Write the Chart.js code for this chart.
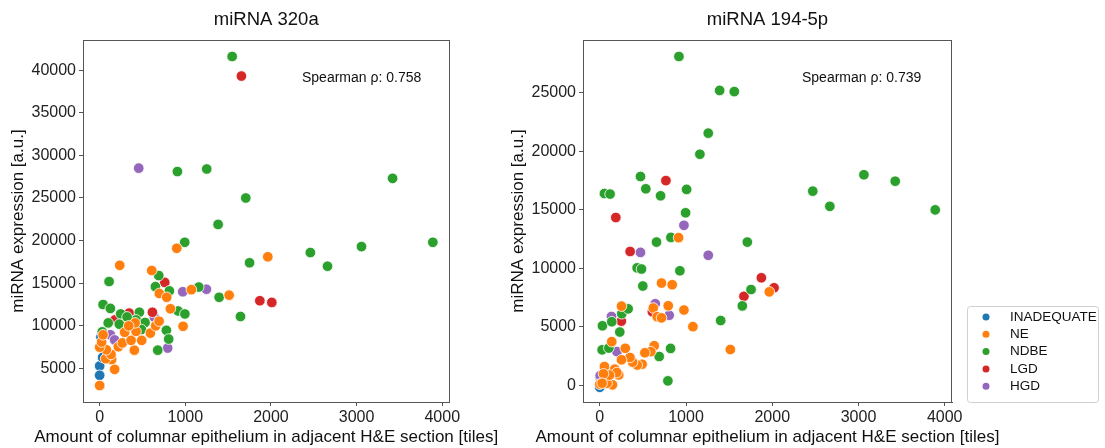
<!DOCTYPE html>
<html>
<head>
<meta charset="utf-8">
<script src="https://cdn.jsdelivr.net/npm/chart.js@4.4.1/dist/chart.umd.min.js"></script>
<style>
  body { margin: 0; background: #fff; }
  #left { position: absolute; left: 0; top: 0; width: 500px; height: 448px; }
  #right { position: absolute; left: 500px; top: 0; width: 605px; height: 448px; }
</style>
</head>
<body>
<div id="left"><canvas id="chartLeft"></canvas></div>
<div id="right"><canvas id="chartRight"></canvas></div>
<script>
'use strict';

var FONT = '"Liberation Sans", Arial, sans-serif';

var categories = ['INADEQUATE', 'NE', 'NDBE', 'LGD', 'HGD'];
var colors = ['#1f77b4', '#ff7f0e', '#2ca02c', '#d62728', '#9467bd'];

var xTicks = [0, 1000, 2000, 3000, 4000];
var yTicks320 = [5000, 10000, 15000, 20000, 25000, 30000, 35000, 40000];
var yTicks194 = [0, 5000, 10000, 15000, 20000, 25000];

// miRNA 320a  [tiles, expression]
var inadequate320 = [[0, 5300], [0, 4200], [35, 6300], [15, 8700]];
var ne320 = [[0, 3000], [175, 4900], [140, 6050], [70, 6150], [133, 6650], [78, 7200], [0, 7500], [218, 7550],
  [23, 8100], [40, 8950], [265, 8000], [405, 7150], [367, 8300], [491, 8300], [292, 9250], [592, 9150],
  [425, 9350], [414, 10350], [339, 10000], [654, 10000], [694, 10550], [697, 13800], [783, 13350],
  [826, 12000], [974, 9950], [1071, 14250], [1512, 13600], [900, 19100], [234, 17100], [608, 16500], [1963, 18100]];
var ndbe320 = [[1547, 41600], [908, 28100], [1250, 28400], [3420, 27300], [1706, 25000], [1383, 21900],
  [993, 19800], [3890, 19800], [3057, 19300], [2460, 18600], [1750, 17400], [2660, 17000], [110, 15200],
  [690, 15900], [651, 14600], [814, 14100], [1157, 14550], [1395, 13350], [1644, 11100], [916, 11750],
  [995, 11400], [779, 9480], [806, 8450], [678, 7150], [464, 11600], [425, 10700], [530, 10400], [487, 9570],
  [245, 11400], [320, 11050], [230, 10200], [100, 10350], [40, 12500], [125, 12050], [30, 9300]];
var lgd320 = [[1655, 39300], [760, 15100], [1870, 12950], [2010, 12750], [616, 11600], [345, 11500], [178, 10700]];
var hgd320 = [[456, 28500], [970, 14000], [1246, 14300], [639, 11000], [794, 7400], [125, 8950], [175, 8350]];

// miRNA 194-5p
var inadequate194 = [[0, -150], [15, 250], [5, 700]];
var ne194 = [[914, 12630], [716, 8750], [840, 8610], [1966, 8000], [1080, 5030], [1514, 3080], [976, 6450],
  [620, 6620], [666, 5880], [716, 5780], [794, 6810], [631, 3400], [592, 2900], [523, 2800], [491, 1820],
  [434, 1750], [380, 2000], [350, 2400], [296, 3180], [252, 2200], [220, 910], [147, 60], [85, 200], [0, 120],
  [89, 1060], [54, 1620], [174, 1400], [197, 1110], [113, 890], [43, 1000], [27, 200], [139, 3750], [252, 6780]];
var ndbe194 = [[918, 28100], [1390, 25200], [1560, 25100], [1258, 21550], [1161, 19750], [472, 17850],
  [534, 16800], [705, 16200], [1007, 16750], [54, 16400], [120, 16350], [995, 14750], [2470, 16600],
  [2668, 15300], [3063, 18000], [3426, 17450], [3890, 15000], [825, 12650], [658, 12250], [1711, 12250],
  [433, 10050], [484, 9950], [929, 9800], [499, 8500], [1754, 8200], [1653, 6800], [1402, 5550], [821, 3170],
  [689, 2480], [790, 400], [27, 3050], [105, 3200], [31, 5100], [139, 5450], [232, 4570], [255, 6130], [329, 6550]];
var lgd194 = [[767, 17500], [186, 14350], [352, 11450], [1874, 9200], [2021, 8350], [1672, 7620], [610, 6300], [250, 5500]];
var hgd194 = [[976, 13680], [472, 11370], [1258, 11120], [643, 6990], [805, 6000], [136, 5900], [199, 2900], [5, 850]];

var series320 = [inadequate320, ne320, ndbe320, lgd320, hgd320];
var series194 = [inadequate194, ne194, ndbe194, lgd194, hgd194];

var xLabel = 'Amount of columnar epithelium in adjacent H&E section [tiles]';

var decoPlugin = {
  id: 'deco',
  afterDraw: function (chart) {
    var o = chart.options.plugins.deco;
    var ctx = chart.ctx;
    var a = chart.chartArea;
    ctx.save();
    ctx.strokeStyle = '#555';
    ctx.lineWidth = 1;
    ctx.strokeRect(Math.round(a.left) + 0.5, Math.round(a.top) + 0.5,
      Math.round(a.right - a.left) - 1, Math.round(a.bottom - a.top));
    ctx.fillStyle = '#111';
    ctx.textBaseline = 'middle';
    ctx.textAlign = 'center';
    ctx.font = '18.5px ' + FONT;
    ctx.fillText(o.title, (a.left + a.right) / 2, 20);
    ctx.font = '17px ' + FONT;
    ctx.fillText(xLabel, (a.left + a.right) / 2, 437);
    ctx.textAlign = 'left';
    ctx.font = '14px ' + FONT;
    ctx.fillText('Spearman \u03c1: ' + o.rho, a.left + 219, a.top + 38);
    if (o.legend) {
      ctx.fillStyle = '#fff';
      ctx.strokeStyle = '#d0d0d0';
      ctx.beginPath();
      ctx.roundRect(467.5, 306.5, 131, 96, 3);
      ctx.fill();
      ctx.stroke();
      for (var i = 0; i < categories.length; i++) {
        var y = 317 + i * 17.3;
        ctx.fillStyle = colors[i];
        ctx.beginPath();
        ctx.arc(486, y, 3.5, 0, Math.PI * 2);
        ctx.fill();
        ctx.fillStyle = '#111';
        ctx.font = '13.5px ' + FONT;
        ctx.fillText(categories[i], 510, y);
      }
    }
    ctx.restore();
  }
};

function makeChart(id, title, rho, series, yTicks, yMin, yMax, padRight, legend) {
  var datasets = [];
  for (var i = 0; i < categories.length; i++) {
    datasets.push({
      label: categories[i],
      data: series[i],
      backgroundColor: colors[i],
      borderColor: '#fff',
      borderWidth: 0.8,
      pointRadius: 5.3,
      pointHoverRadius: 5.3,
      order: i === 0 ? 5 : 0
    });
  }
  return new Chart(document.getElementById(id).getContext('2d'), {
    type: 'scatter',
    data: { datasets: datasets },
    plugins: [decoPlugin],
    options: {
      responsive: true,
      maintainAspectRatio: false,
      animation: false,
      events: [],
      layout: { padding: { top: 40, right: padRight, left: 0, bottom: 0 } },
      plugins: {
        legend: { display: false },
        tooltip: { enabled: false },
        deco: { title: title, rho: rho, legend: legend }
      },
      scales: {
        x: {
          type: 'linear',
          min: -194.5,
          max: 4084.5,
          afterBuildTicks: function (s) { s.ticks = xTicks.map(function (v) { return { value: v }; }); },
          afterFit: function (s) { s.height = 46; },
          grid: { drawOnChartArea: false, drawTicks: true, tickLength: 4, color: '#555' },
          border: { display: true, color: '#555' },
          ticks: { color: '#222', font: { size: 16, family: FONT }, padding: 2, maxRotation: 0,
            callback: function (v) { return String(v); } },
          title: { display: false }
        },
        y: {
          type: 'linear',
          min: yMin,
          max: yMax,
          afterBuildTicks: function (s) { s.ticks = yTicks.map(function (v) { return { value: v }; }); },
          afterFit: function (s) { s.width = 83; },
          grid: { drawOnChartArea: false, drawTicks: true, tickLength: 4, color: '#555' },
          border: { display: true, color: '#555' },
          ticks: { color: '#222', font: { size: 16, family: FONT }, padding: 3,
            callback: function (v) { return String(v); } },
          title: { display: true, text: 'miRNA expression [a.u.]',
            color: '#111', font: { size: 17, family: FONT }, padding: { top: 8, bottom: 0 } }
        }
      }
    }
  });
}

makeChart('chartLeft', 'miRNA 320a', '0.758', series320, yTicks320, 1070, 43530, 50.5, false);
makeChart('chartRight', 'miRNA 194-5p', '0.739', series194, yTicks194, -1405, 29505, 153, true);
</script>
</body>
</html>
